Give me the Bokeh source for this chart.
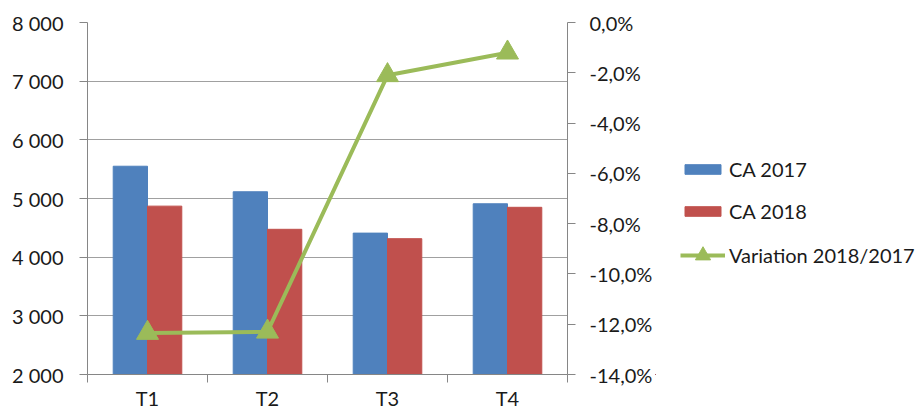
from bokeh.plotting import figure
from bokeh.layouts import row
from bokeh.models import Range1d, LinearAxis, FixedTicker, Legend, LegendItem, ColumnDataSource
from bokeh.transform import dodge
from bokeh.embed import file_html
from bokeh.resources import INLINE

# ---- data ----
categories = ["T1", "T2", "T3", "T4"]
ca_2017 = [5550, 5115, 4410, 4910]
ca_2018 = [4870, 4475, 4315, 4850]
variation = [-12.35, -12.3, -2.1, -1.2]
series_names = ["CA 2017", "CA 2018", "Variation 2018/2017"]

left_ticks = [2000, 3000, 4000, 5000, 6000, 7000, 8000]
left_labels = ["2 000", "3 000", "4 000", "5 000", "6 000", "7 000", "8 000"]
right_ticks = [-14, -12, -10, -8, -6, -4, -2, 0]
right_labels = ["-14,0%", "-12,0%", "-10,0%", "-8,0%", "-6,0%", "-4,0%", "-2,0%", "0,0%"]

# ---- styles ----
BLUE = "#4F81BD"
RED = "#C0504D"
GREEN = "#9BBB59"
AXIS = "#868686"
GRID = "#A0A0A0"
TXT = "#1a1a1a"
FONT = "Lato"
FS = "20px"

n = len(categories)
centers = [i + 0.5 for i in range(n)]
bounds = [float(i) for i in range(n + 1)]

src = ColumnDataSource(dict(x=centers, cat=categories, ca17=ca_2017, ca18=ca_2018, var=variation))

p = figure(width=655, height=412, output_backend="svg", toolbar_location=None,
           x_range=Range1d(0, n), y_range=Range1d(left_ticks[0], left_ticks[-1]),
           min_border_left=87, min_border_top=22, min_border_bottom=37, min_border_right=85)
p.outline_line_color = None
p.background_fill_color = "white"
p.border_fill_color = "white"

p.extra_y_ranges = {"pct": Range1d(right_ticks[0], right_ticks[-1])}

bw = 1.0 / 3.5
p.vbar(x=dodge("x", -bw / 2, range=p.x_range), top="ca17", bottom=left_ticks[0], width=bw,
       source=src, fill_color=BLUE, line_color=BLUE)
p.vbar(x=dodge("x", bw / 2, range=p.x_range), top="ca18", bottom=left_ticks[0], width=bw,
       source=src, fill_color=RED, line_color=RED)
p.line(x="x", y="var", source=src, y_range_name="pct", line_color=GREEN, line_width=4)
p.scatter(x="x", y="var", source=src, y_range_name="pct", marker="triangle", size=22,
          fill_color=GREEN, line_color=GREEN)

# x axis
xa = p.xaxis[0]
xa.ticker = FixedTicker(ticks=centers, minor_ticks=bounds)
xa.major_label_overrides = {c: lab for c, lab in zip(centers, categories)}
xa.major_tick_out = 0
xa.major_tick_in = 0
xa.minor_tick_out = 8
xa.minor_tick_in = 0
xa.minor_tick_line_color = AXIS
xa.axis_line_color = AXIS
xa.major_label_standoff = 3
xa.major_label_text_font = FONT
xa.major_label_text_font_size = FS
xa.major_label_text_color = TXT

# left y axis
ya = p.yaxis[0]
ya.ticker = FixedTicker(ticks=left_ticks, minor_ticks=[])
ya.major_label_overrides = {t: lab for t, lab in zip(left_ticks, left_labels)}
ya.major_tick_out = 8
ya.major_tick_in = 0
ya.major_tick_line_color = AXIS
ya.axis_line_color = AXIS
ya.major_label_standoff = 16
ya.major_label_text_font = FONT
ya.major_label_text_font_size = FS
ya.major_label_text_color = TXT

# right y axis
ra = LinearAxis(y_range_name="pct", ticker=FixedTicker(ticks=right_ticks, minor_ticks=[]))
ra.major_label_overrides = {t: lab for t, lab in zip(right_ticks, right_labels)}
ra.major_tick_out = 8
ra.major_tick_in = 0
ra.minor_tick_out = 0
ra.minor_tick_in = 0
ra.major_tick_line_color = AXIS
ra.axis_line_color = AXIS
ra.major_label_standoff = 14
ra.major_label_text_font = FONT
ra.major_label_text_font_size = FS
ra.major_label_text_color = TXT
p.add_layout(ra, "right")

p.xgrid.grid_line_color = None
p.ygrid.ticker = FixedTicker(ticks=left_ticks)
p.ygrid.grid_line_color = GRID
p.ygrid.grid_line_width = 1

# ---- legend panel (separate figure; same series, drawn outside its visible ranges) ----
lf = figure(width=260, height=412, output_backend="svg", toolbar_location=None,
            x_range=Range1d(100, 101), y_range=Range1d(100000, 100001),
            x_axis_type=None, y_axis_type=None,
            min_border_left=0, min_border_right=0, min_border_top=0, min_border_bottom=0)
lf.outline_line_color = None
lf.xgrid.grid_line_color = None
lf.ygrid.grid_line_color = None
lf.border_fill_color = "white"
lf.background_fill_color = "white"

lb = lf.vbar(x="x", top="ca17", width=bw, source=src, fill_color=BLUE, line_color=BLUE)
lr = lf.vbar(x="x", top="ca18", width=bw, source=src, fill_color=RED, line_color=RED)
ll = lf.line(x="x", y="var", source=src, line_color=GREEN, line_width=4)
lm = lf.scatter(x="x", y="var", source=src, marker="triangle", fill_color=GREEN, line_color=GREEN)


def style_legend(lg, gh, sp):
    lg.glyph_width = 45
    lg.glyph_height = gh
    lg.label_text_font = FONT
    lg.label_text_font_size = FS
    lg.label_text_color = TXT
    lg.label_standoff = 4
    lg.spacing = sp
    lg.padding = 10
    lg.margin = 0
    lg.border_line_color = None
    lg.background_fill_alpha = 0


leg1 = Legend(items=[LegendItem(label=series_names[0], renderers=[lb]),
                     LegendItem(label=series_names[1], renderers=[lr])], location=(25, 151))
style_legend(leg1, 12, 18)
lf.add_layout(leg1, "center")

leg2 = Legend(items=[LegendItem(label=series_names[2], renderers=[ll, lm])], location=(25, 100))
style_legend(leg2, 38, 0)
lf.add_layout(leg2, "center")

layout = row(p, lf, spacing=0)
open("out.html", "w").write(file_html(layout, INLINE))
